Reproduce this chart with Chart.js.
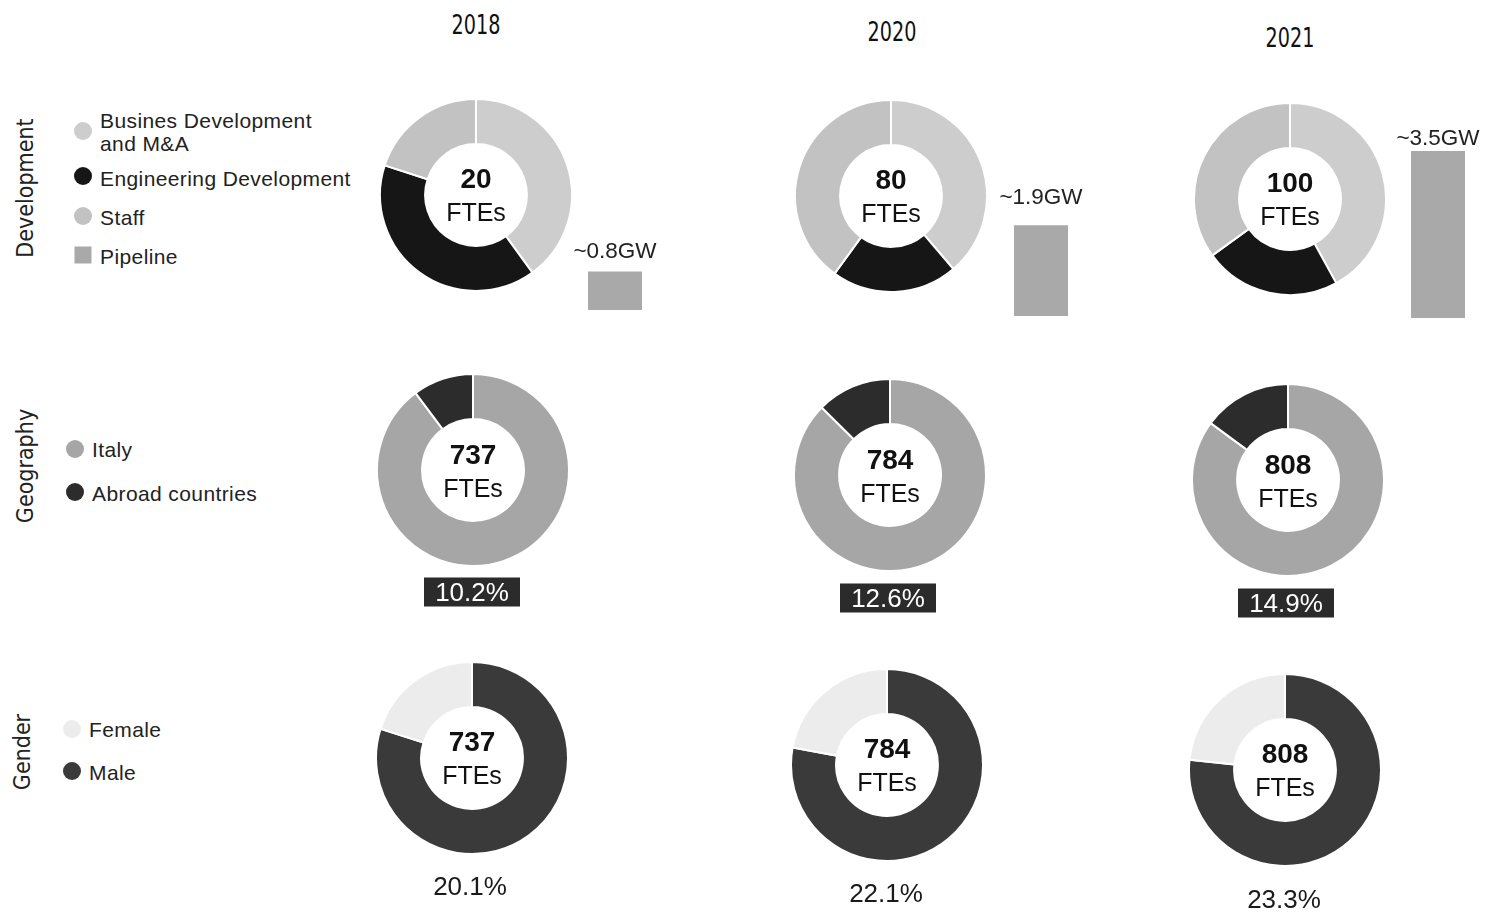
<!DOCTYPE html>
<html>
<head>
<meta charset="utf-8">
<script src="https://cdn.jsdelivr.net/npm/chart.js@4.4.1/dist/chart.umd.min.js"></script>
<style>
  html, body { margin: 0; padding: 0; background: #ffffff; }
  #stage { position: relative; width: 1494px; height: 921px; overflow: hidden; background: #fff;
           font-family: "Liberation Sans", Arial, sans-serif; color: #1a1a1a; }
  .abs { position: absolute; white-space: nowrap; }
  canvas { position: absolute; }
  .year { font-family: "DejaVu Sans Condensed", "Liberation Sans Narrow", sans-serif; font-size: 26px; color: #111; transform: translate(-50%, -50%) scaleX(0.82); }
  .row { font-family: "DejaVu Sans Condensed", "Liberation Sans Narrow", sans-serif; font-size: 23px; color: #222; transform: translate(-50%, -50%) rotate(-90deg); }
  .leg { font-size: 21px; letter-spacing: 0.4px; color: #222; transform: translateY(-50%); line-height: 23px; }
  .mark { position: absolute; width: 18px; height: 18px; border-radius: 50%; transform: translate(-50%, -50%); }
  .sq { border-radius: 0; width: 17px; height: 17px; }
  .num { font-size: 28px; font-weight: bold; color: #111; transform: translate(-50%, -50%); }
  .fte { font-size: 25px; color: #111; transform: translate(-50%, -50%); }
  .gw { font-size: 22.5px; color: #222; transform: translate(-50%, -50%); }
  .box { background: #2b2b2b; color: #fff; font-size: 26px; width: 96px; height: 29px; line-height: 29px; text-align: center; transform: translate(-50%, -50%); }
  .pct { font-size: 26px; color: #1a1a1a; transform: translate(-50%, -50%); }
</style>
</head>
<body>
<div id="stage"></div>
<script>
// ---------------- data ----------------
const years = ['2018', '2020', '2021'];
const rowTitles = ['Development', 'Geography', 'Gender'];

const devLabels = ['Busines Development and M&A', 'Engineering Development', 'Staff'];
const devBusiness = [8, 31, 42];
const devEngineering = [8, 17, 23];
const devStaff = [4, 32, 35];
const devTotals = [20, 80, 100];

const pipelineGW = [0.8, 1.9, 3.5];
const pipelineLabels = ['~0.8GW', '~1.9GW', '~3.5GW'];

const headcount = [737, 784, 808];
const geoLabels = ['Italy', 'Abroad countries'];
const geoItaly = [89.8, 87.4, 85.1];
const geoAbroad = [10.2, 12.6, 14.9];

const genderLabels = ['Female', 'Male'];
const genderFemale = [20.1, 22.1, 23.3];
const genderMale = [79.9, 77.9, 76.7];

// ---------------- styles / layout ----------------
const C = {
  business: '#cdcdcd', engineering: '#161616', staff: '#c2c2c2', pipeline: '#a9a9a9',
  italy: '#a6a6a6', abroad: '#2c2c2c', female: '#ececec', male: '#3a3a3a'
};
const yearPos = [[476, 25], [892, 32], [1290, 38]];
const devCenters = [[476, 195], [891, 196], [1290, 199]];
const geoCenters = [[473, 470], [890, 475], [1288, 480]];
const genCenters = [[472, 758], [887, 765], [1285, 770]];
const R = 96;
const barCx = [615, 1041, 1438];
const barBase = [310, 316, 318];
const barLabelY = [251, 197, 138];
const boxPos = [[472, 592], [888, 598], [1286, 603]];
const pctPos = [[470, 886], [886, 893], [1284, 899]];

const stage = document.getElementById('stage');
function addText(cls, text, x, y) {
  const d = document.createElement('div');
  d.className = 'abs ' + cls;
  d.textContent = text;
  d.style.left = x + 'px'; d.style.top = y + 'px';
  stage.appendChild(d);
  return d;
}
function addMark(x, y, color, square) {
  const d = document.createElement('div');
  d.className = 'mark' + (square ? ' sq' : '');
  d.style.left = x + 'px'; d.style.top = y + 'px';
  d.style.background = color;
  stage.appendChild(d);
}
function addCanvas(left, top, w, h) {
  const c = document.createElement('canvas');
  c.width = w; c.height = h;
  c.style.left = left + 'px'; c.style.top = top + 'px';
  c.style.width = w + 'px'; c.style.height = h + 'px';
  stage.appendChild(c);
  return c;
}
const baseOpts = {
  responsive: false, animation: false, devicePixelRatio: 1, events: [],
  layout: { padding: 0 },
  plugins: { legend: { display: false }, tooltip: { enabled: false } }
};
function doughnut(cx, cy, labels, values, colors) {
  const bw = 2;
  const size = 2 * R + bw;
  const cv = addCanvas(cx - size / 2, cy - size / 2, size, size);
  new Chart(cv, {
    type: 'doughnut',
    data: { labels: labels, datasets: [{ data: values, backgroundColor: colors, borderColor: '#ffffff', borderWidth: bw }] },
    options: Object.assign({}, baseOpts, { cutout: '53%' })
  });
}

// titles
years.forEach((y, i) => addText('year', y, yearPos[i][0], yearPos[i][1]));
addText('row', rowTitles[0], 25, 188);
addText('row', rowTitles[1], 25, 466);
addText('row', rowTitles[2], 22, 752);

// legends
addMark(83, 131, C.business); addText('leg', 'Busines Development', 100, 120); addText('leg', 'and M&A', 100, 143);
addMark(83, 176, C.engineering); addText('leg', devLabels[1], 100, 178);
addMark(83, 216, C.staff); addText('leg', devLabels[2], 100, 217);
addMark(83, 255, C.pipeline, true); addText('leg', 'Pipeline', 100, 256);

addMark(75, 449, C.italy); addText('leg', geoLabels[0], 92, 449);
addMark(75, 492, C.abroad); addText('leg', geoLabels[1], 92, 493);

addMark(72, 729, C.female); addText('leg', genderLabels[0], 89, 729);
addMark(72, 771, C.male); addText('leg', genderLabels[1], 89, 772);

// development doughnuts + pipeline bars
const pxPerGW = 47.6;
const barH = 200;
for (let i = 0; i < years.length; i++) {
  const [cx, cy] = devCenters[i];
  doughnut(cx, cy, devLabels, [devBusiness[i], devEngineering[i], devStaff[i]], [C.business, C.engineering, C.staff]);
  addText('num', String(devTotals[i]), cx, cy - 16);
  addText('fte', 'FTEs', cx, cy + 17);

  const bw = 54;
  const cv = addCanvas(barCx[i] - bw / 2, barBase[i] - barH, bw, barH);
  new Chart(cv, {
    type: 'bar',
    data: { labels: [years[i]], datasets: [{ data: [pipelineGW[i]], backgroundColor: C.pipeline, barPercentage: 1, categoryPercentage: 1 }] },
    options: Object.assign({}, baseOpts, {
      scales: {
        x: { display: false },
        y: { display: false, min: 0, max: barH / pxPerGW }
      }
    })
  });
  addText('gw', pipelineLabels[i], barCx[i], barLabelY[i]);
}

// geography
for (let i = 0; i < years.length; i++) {
  const [cx, cy] = geoCenters[i];
  doughnut(cx, cy, geoLabels, [geoItaly[i], geoAbroad[i]], [C.italy, C.abroad]);
  addText('num', String(headcount[i]), cx, cy - 15);
  addText('fte', 'FTEs', cx, cy + 18);
  addText('box', geoAbroad[i].toFixed(1) + '%', boxPos[i][0], boxPos[i][1]);
}

// gender
for (let i = 0; i < years.length; i++) {
  const [cx, cy] = genCenters[i];
  doughnut(cx, cy, ['Male', 'Female'], [genderMale[i], genderFemale[i]], [C.male, C.female]);
  addText('num', String(headcount[i]), cx, cy - 16);
  addText('fte', 'FTEs', cx, cy + 17);
  addText('pct', genderFemale[i].toFixed(1) + '%', pctPos[i][0], pctPos[i][1]);
}
</script>
</body>
</html>
